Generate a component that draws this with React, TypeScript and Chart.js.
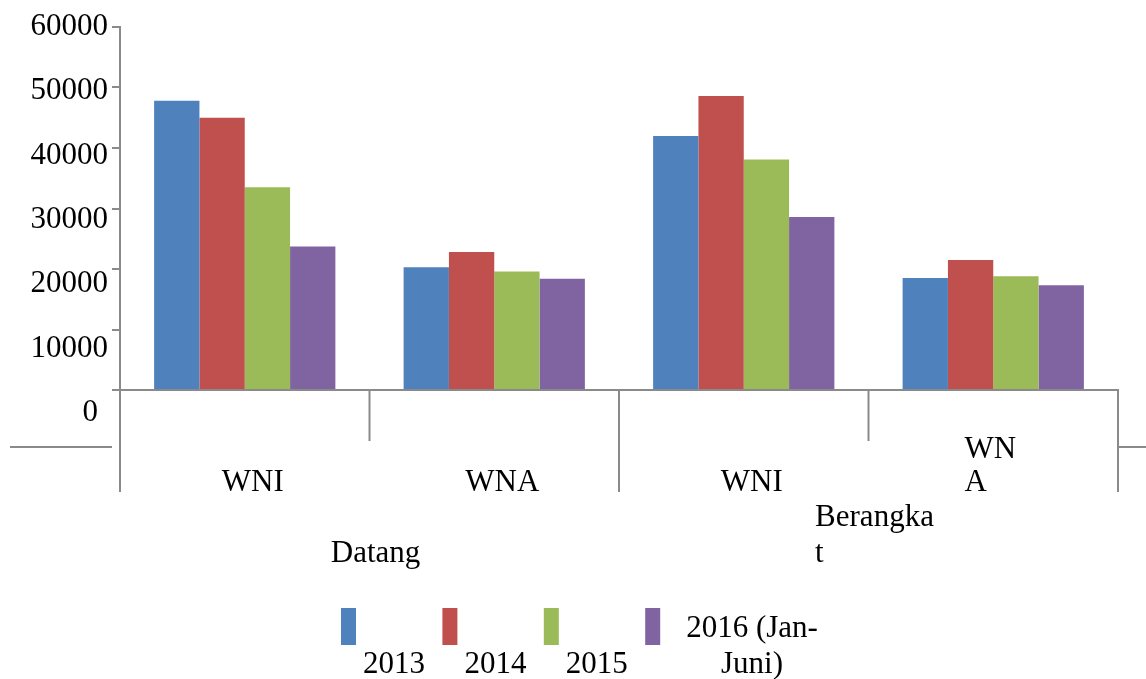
import React, { useEffect, useRef } from 'react';
import { Chart, registerables } from 'chart.js';

Chart.register(...registerables);

const categories = ['WNI', 'WNA', 'WNI', 'WNA'];
const categoryLines = [['WNI'], ['WNA'], ['WNI'], ['WN', 'A']];
const groupLabels = [['Datang'], ['Berangka', 't']];
const groupSpan = 2;
const seriesNames = ['2013', '2014', '2015', '2016 (Jan-Juni)'];
const legendLines = [['2013'], ['2014'], ['2015'], ['2016 (Jan-', 'Juni)']];
const values2013 = [47800, 20300, 42000, 18500];
const values2014 = [45000, 22800, 48600, 21500];
const values2015 = [33500, 19600, 38100, 18800];
const values2016 = [23700, 18400, 28600, 17300];
const seriesColors = ['#4F81BD', '#C0504D', '#9BBB59', '#8064A2'];
const yTicks = [0, 10000, 20000, 30000, 40000, 50000, 60000];

const FONT = "31px 'Liberation Serif', 'Times New Roman', serif";
const AXIS = '#8a8a8a';

const decorPlugin = {
  id: 'decor',
  afterDraw(chart: any) {
    const ctx = chart.ctx as CanvasRenderingContext2D;
    const x = chart.scales.x;
    const y = chart.scales.y;
    const area = chart.chartArea;
    ctx.save();
    ctx.font = FONT;
    ctx.fillStyle = '#000';
    ctx.textBaseline = 'alphabetic';

    // y tick labels (slightly spread, as in the reference)
    ctx.textAlign = 'right';
    yTicks.forEach((v) => {
      const py = y.getPixelForValue(v);
      const ly = area.top + (py - area.top) * 1.063 - 2;
      const s = String(v);
      ctx.fillText(s, s.length < 2 ? 98 : 108, ly + 10);
    });

    // category boundaries
    const n = categories.length;
    const bounds: number[] = [];
    for (let i = 0; i <= n; i++) {
      if (i === 0) bounds.push(area.left);
      else if (i === n) bounds.push(area.right);
      else bounds.push((x.getPixelForValue(i - 1) + x.getPixelForValue(i)) / 2);
    }
    ctx.strokeStyle = AXIS;
    ctx.lineWidth = 2;
    bounds.forEach((b, i) => {
      const long = i % groupSpan === 0;
      ctx.beginPath();
      ctx.moveTo(b, area.bottom);
      ctx.lineTo(b, long ? 492 : 441);
      ctx.stroke();
    });
    // stray horizontal separators
    ctx.beginPath();
    ctx.moveTo(10, 447);
    ctx.lineTo(area.left - 8, 447);
    ctx.moveTo(area.right, 447);
    ctx.lineTo(chart.width, 447);
    ctx.stroke();

    // category labels (bottom aligned)
    ctx.textAlign = 'left';
    categoryLines.forEach((lines, i) => {
      const cx = (bounds[i] + bounds[i + 1]) / 2 + (lines.length > 1 ? -3 : 8);
      const w = Math.max(...lines.map((l) => ctx.measureText(l).width));
      const left = cx - w / 2;
      lines.forEach((l, j) => {
        const base = 491 - (lines.length - 1 - j) * 33;
        ctx.fillText(l, left, base);
      });
    });

    // group labels
    groupLabels.forEach((lines, g) => {
      const cx = (bounds[g * groupSpan] + bounds[g * groupSpan + groupSpan]) / 2 + 6;
      const w = Math.max(...lines.map((l) => ctx.measureText(l).width));
      const left = cx - w / 2;
      lines.forEach((l, j) => {
        const base = 562 - (lines.length - 1 - j) * 36;
        ctx.fillText(l, left, base);
      });
    });

    // legend
    const pitch = 101.4;
    const start = chart.width / 2 - 232;
    chart.data.datasets.forEach((ds: any, i: number) => {
      const bx = start + i * pitch;
      const bw = 15;
      ctx.fillStyle = ds.backgroundColor;
      ctx.fillRect(bx, 608, bw, 37);
      ctx.fillStyle = '#000';
      const lines = legendLines[i];
      const w = Math.max(...lines.map((l) => ctx.measureText(l).width));
      const left = bx + bw + (lines.length > 1 ? 26 : 7);
      lines.forEach((l, j) => {
        const lw = ctx.measureText(l).width;
        const base = 673 - (lines.length - 1 - j) * 36;
        ctx.fillText(l, left + (w - lw) / 2, base);
      });
    });
    ctx.restore();
  },
};

export default function App() {
  const ref = useRef<HTMLCanvasElement | null>(null);
  useEffect(() => {
    if (!ref.current) return;
    const seriesValues = [values2013, values2014, values2015, values2016];
    const chart = new Chart(ref.current, {
      type: 'bar',
      data: {
        labels: categories,
        datasets: seriesNames.map((name, i) => ({
          label: name,
          data: seriesValues[i],
          backgroundColor: seriesColors[i],
          borderWidth: 0,
          categoryPercentage: 0.7265,
          barPercentage: 1,
        })),
      },
      options: {
        responsive: false,
        animation: false,
        layout: { padding: { top: 27, right: 28, left: 0, bottom: 0 } },
        plugins: { legend: { display: false }, tooltip: { enabled: false } },
        scales: {
          x: {
            ticks: { display: false },
            grid: { display: false },
            border: { display: true, color: AXIS, width: 2 },
            afterFit: (s: any) => {
              s.height = 289;
            },
          },
          y: {
            min: 0,
            max: 60000,
            ticks: { display: false, stepSize: 10000 },
            grid: {
              drawOnChartArea: false,
              drawTicks: true,
              tickLength: 8,
              color: AXIS,
              lineWidth: 2,
            },
            border: { display: true, color: AXIS, width: 2 },
            afterFit: (s: any) => {
              s.width = 120;
            },
          },
        },
      },
      plugins: [decorPlugin],
    });
    return () => chart.destroy();
  }, []);
  return (
    <div style={{ position: 'fixed', left: 0, top: 0, width: 1146, height: 679, background: '#fff' }}>
      <canvas ref={ref} width={1146} height={679} />
    </div>
  );
}
